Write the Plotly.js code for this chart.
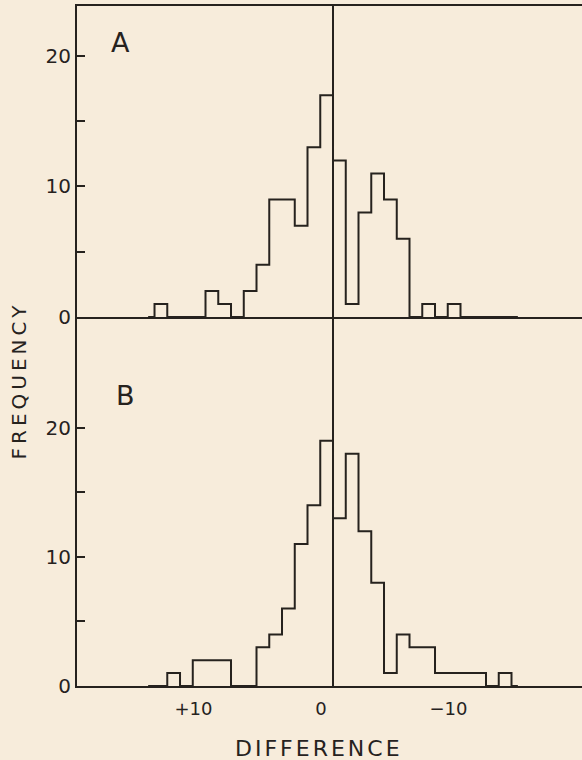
<!DOCTYPE html>
<html>
<head>
<meta charset="utf-8">
<script src="https://cdn.plot.ly/plotly-3.0.1.min.js"></script>
<style>
  html, body { margin: 0; padding: 0; background: #f6ebda; }
  #chart { width: 582px; height: 760px; }
  .annotation-text.spaced3 { letter-spacing: 3px; }
  .annotation-text.spaced4 { letter-spacing: 4px; }
</style>
</head>
<body>
<div id="chart"></div>
<script>
// Bin centres (difference, one unit wide bins); axis is reversed (+ on the left)
const binCenters = [14.5, 13.5, 12.5, 11.5, 10.5, 9.5, 8.5, 7.5, 6.5, 5.5, 4.5, 3.5, 2.5, 1.5, 0.5,
                    -0.5, -1.5, -2.5, -3.5, -4.5, -5.5, -6.5, -7.5, -8.5, -9.5, -10.5, -11.5, -12.5, -13.5, -14.5];
// Panel A frequencies
const freqA = [0, 1, 0, 0, 0, 2, 1, 0, 2, 4, 9, 9, 7, 13, 17,
               12, 1, 8, 11, 9, 6, 0, 1, 0, 1, 0, 0, 0, 0, 0];
// Panel B frequencies
const freqB = [0, 0, 1, 0, 2, 2, 2, 0, 0, 3, 4, 6, 11, 14, 19,
               13, 18, 12, 8, 1, 4, 3, 3, 1, 1, 1, 1, 0, 1, 0];
const yTickVals = [0, 5, 10, 15, 20];
const yTickText = ['0', '', '10', '', '20'];
const xTickVals = [10, 0, -10];
const xTickText = ['+10', '0', '\u221210'];
const panelLabels = ['A', 'B'];
const xTitle = 'DIFFERENCE';
const yTitle = 'FREQUENCY';

const ink = '#26221e';
const bg = '#f7ecdb';
const font = 'DejaVu Sans, sans-serif';

const stepLine = { color: ink, width: 2, shape: 'hvh' };

const traces = [
  { x: binCenters, y: freqA, xaxis: 'x2', yaxis: 'y2', type: 'scatter', mode: 'lines',
    line: stepLine, hoverinfo: 'x+y', showlegend: false },
  { x: binCenters, y: freqB, xaxis: 'x', yaxis: 'y', type: 'scatter', mode: 'lines',
    line: stepLine, hoverinfo: 'x+y', showlegend: false }
];

const split = (686 - 317) / 680;
const xRange = [20.08, -19.53];

const yCommon = {
  tickmode: 'array', tickvals: yTickVals, ticktext: yTickText,
  ticks: 'inside', ticklen: 8, tickwidth: 2, tickcolor: ink,
  showline: true, linecolor: ink, linewidth: 2,
  showgrid: false, zeroline: false,
  tickfont: { family: font, size: 20, color: ink },
  fixedrange: true
};

const layout = {
  width: 582, height: 760,
  paper_bgcolor: bg, plot_bgcolor: bg,
  margin: { l: 77, r: 0, t: 6, b: 74 },
  showlegend: false,
  xaxis: {
    anchor: 'y', range: xRange, showgrid: false,
    zeroline: true, zerolinecolor: ink, zerolinewidth: 2,
    showline: true, linecolor: ink, linewidth: 2,
    tickmode: 'array', tickvals: xTickVals, ticktext: xTickText,
    ticks: '', ticklabelshift: 12, ticklabelstandoff: 5,
    tickfont: { family: font, size: 18, color: ink },
    fixedrange: true
  },
  xaxis2: {
    anchor: 'y2', matches: 'x', range: xRange, showgrid: false,
    zeroline: true, zerolinecolor: ink, zerolinewidth: 2,
    showline: true, mirror: true, linecolor: ink, linewidth: 2,
    showticklabels: false, ticks: '',
    fixedrange: true
  },
  yaxis: Object.assign({}, yCommon, { domain: [0, split], range: [0, 28.6] }),
  yaxis2: Object.assign({}, yCommon, { domain: [split, 1], range: [0, 23.83] }),
  annotations: [
    { text: panelLabels[0], xref: 'paper', yref: 'paper', x: 0.0871, y: 0.947,
      xanchor: 'center', yanchor: 'middle', showarrow: false,
      font: { family: font, size: 27, color: ink } },
    { text: panelLabels[1], xref: 'paper', yref: 'paper', x: 0.097, y: 0.4265,
      xanchor: 'center', yanchor: 'middle', showarrow: false,
      font: { family: font, size: 27, color: ink } },
    { text: yTitle, xref: 'paper', yref: 'paper', x: -0.1139, y: 0.45,
      xanchor: 'center', yanchor: 'middle', showarrow: false, textangle: -90,
      font: { family: font, size: 20, color: ink } },
    { text: xTitle, xref: 'paper', yref: 'paper', x: 0.479, y: -0.0926,
      xanchor: 'center', yanchor: 'middle', showarrow: false,
      font: { family: font, size: 22, color: ink } }
  ]
};

Plotly.newPlot('chart', traces, layout, { displayModeBar: false, staticPlot: true }).then(function () {
  document.querySelectorAll('.annotation-text').forEach(function (t) {
    if (t.textContent === yTitle) t.classList.add('spaced4');
    if (t.textContent === xTitle) t.classList.add('spaced3');
  });
});
</script>
</body>
</html>
